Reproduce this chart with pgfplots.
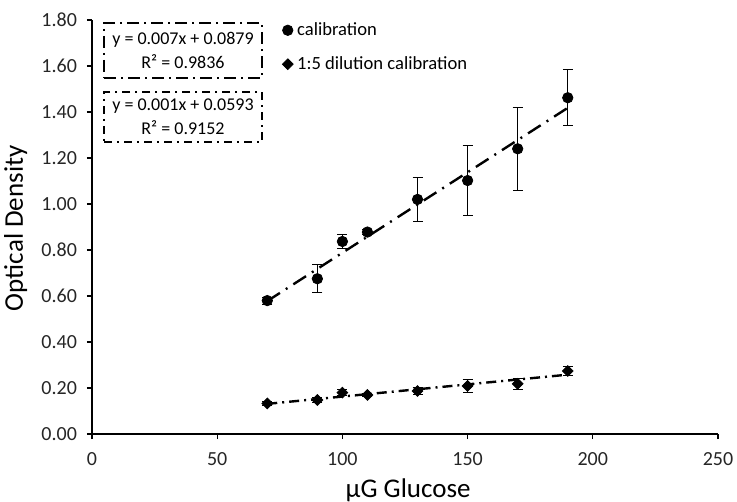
\documentclass[border=0pt]{standalone}
\usepackage{pgfplots}
\pgfplotsset{compat=1.18}
\usepackage{fontspec}
\setmainfont{Carlito}

\pgfplotstableread{
x y e
70 0.580 0.015
90 0.675 0.060
100 0.837 0.030
110 0.878 0.010
130 1.020 0.097
150 1.102 0.152
170 1.240 0.180
190 1.462 0.122
}\calib

\pgfplotstableread{
x y e
70 0.133 0.008
90 0.148 0.010
100 0.180 0.012
110 0.170 0.008
130 0.187 0.015
150 0.209 0.030
170 0.218 0.025
190 0.274 0.018
}\dil

\begin{document}
\begin{tikzpicture}
\useasboundingbox (-46pt,-34pt) rectangle (322.5pt,217pt);
\begin{axis}[
  anchor=south west, at={(0,0)},
  scale only axis, width=313pt, height=207pt,
  xmin=0, xmax=250, ymin=0, ymax=1.8,
  axis x line*=bottom, axis y line*=left,
  axis line style={-, line width=0.6pt, black},
  xtick={0,50,100,150,200,250},
  ytick={0,0.2,0.4,0.6,0.8,1.0,1.2,1.4,1.6,1.8},
  yticklabel style={xshift=-1.5pt, /pgf/number format/.cd, fixed, fixed zerofill, precision=2},
  /pgf/number format/assume math mode=true,
  tick align=outside, major tick length=2.5pt,
  tick style={black, line width=0.6pt},
  ticklabel style={font=\fontsize{10}{12}\selectfont, text=black!85},
  xticklabel style={yshift=-3pt},
  xlabel={μG Glucose}, ylabel={Optical Density},
  label style={font=\fontsize{13.5}{16}\selectfont},
  xlabel style={at={(axis description cs:0.505,-0.135)}, anchor=center},
  ylabel style={at={(axis description cs:-0.122,0.497)}, anchor=center, rotate=0},
  clip=false,
  legend style={draw=none, fill=none, at={(0.3035,1.005)}, anchor=north west,
    font=\fontsize{9.3}{11}\selectfont, row sep=5pt, inner sep=0pt},
  legend cell align=left,
]
\addplot[forget plot, black, line width=1.2pt, dash pattern=on 7.5pt off 3.5pt on 1pt off 3.5pt]
  coordinates {(70,0.578) (190,1.418)};
\addplot[forget plot, black, line width=1.2pt, dash pattern=on 5pt off 2.5pt on 1pt off 2.5pt]
  coordinates {(70,0.131) (190,0.258)};
\addplot[only marks, mark=*, mark size=2.6pt, black,
  error bars/.cd, y dir=both, y explicit,
  error bar style={line width=0.5pt, black},
  error mark options={rotate=90, mark size=2.5pt, line width=0.5pt, black}]
  table[x=x, y=y, y error=e] {\calib};
\addlegendentry{calibration}
\addplot[only marks, mark=square*, mark size=1.9pt, mark options={rotate=45}, black,
  error bars/.cd, y dir=both, y explicit,
  error bar style={line width=0.5pt, black},
  error mark options={rotate=90, mark size=2.5pt, line width=0.5pt, black}]
  table[x=x, y=y, y error=e] {\dil};
\addlegendentry{1:5 dilution calibration}
\end{axis}
\node[draw, line width=1pt, dash pattern=on 6pt off 2.5pt on 1pt off 2.5pt,
  minimum width=79pt, minimum height=27.5pt, inner sep=0pt, align=center,
  font=\fontsize{9}{12}\selectfont] at (45.5pt,191.75pt)
  {y = 0.007x + 0.0879\\R² = 0.9836};
\node[draw, line width=1pt, dash pattern=on 4pt off 2.5pt on 1pt off 2.5pt,
  minimum width=79pt, minimum height=25pt, inner sep=0pt, align=center,
  font=\fontsize{9}{12}\selectfont] at (45.5pt,158.5pt)
  {y = 0.001x + 0.0593\\R² = 0.9152};
\end{tikzpicture}
\end{document}
